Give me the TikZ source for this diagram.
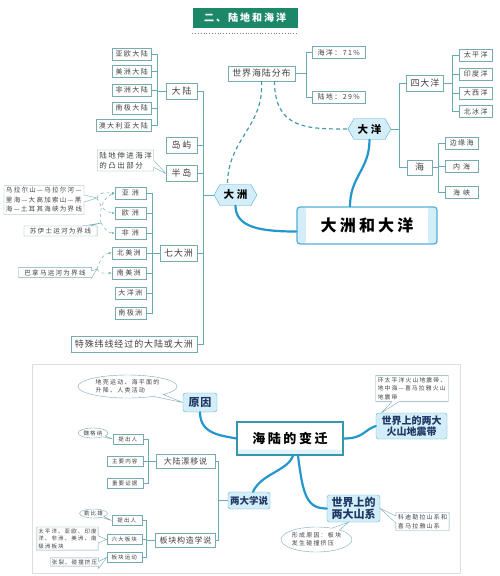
\documentclass[tikz,border=0pt]{standalone}
\usepackage{fontspec}
\newfontfamily\cjk[LetterSpace=20]{Noto Sans CJK SC}
\newfontfamily\cjkmid[LetterSpace=10]{Noto Sans CJK SC}
\newfontfamily\cjkplain{Noto Sans CJK SC}
\usetikzlibrary{shapes.callouts, shapes.symbols, arrows.meta, positioning}

\definecolor{lineC}{RGB}{105,172,182}
\definecolor{boxC}{RGB}{120,170,180}
\definecolor{textC}{RGB}{65,65,65}
\definecolor{thickC}{RGB}{35,150,205}
\definecolor{nodeFill}{RGB}{212,238,249}
\definecolor{nodeDraw}{RGB}{85,175,215}
\definecolor{coreC}{RGB}{55,150,170}
\definecolor{titleC}{RGB}{28,135,105}
\definecolor{frameC}{RGB}{222,222,222}
\definecolor{seaDash}{RGB}{70,155,170}
\definecolor{deepC}{RGB}{30,55,100}

\begin{document}
\begin{tikzpicture}[x=1pt, y=-1pt,
	% plain boxes of the trees
	leaf/.style={draw=boxC, fill=white, text=textC, inner xsep=3pt, inner ysep=1pt, minimum height=12pt, font=\cjk\fontsize{7}{8}\selectfont},
	tinyleaf/.style={leaf, minimum height=10pt, inner xsep=2.5pt, font=\cjk\fontsize{5.5}{6.5}\selectfont},
	midbox/.style={draw=boxC, fill=white, text=textC, inner xsep=4pt, inner ysep=1pt, minimum height=16pt, font=\cjkmid\fontsize{9}{10}\selectfont},
	% highlighted nodes
	hexnode/.style={signal, signal to=east and west, signal pointer angle=120, draw=nodeDraw, fill=nodeFill, text=black, minimum height=21pt, minimum width=43pt, inner xsep=3pt, font=\cjk\bfseries\fontsize{10.5}{12}\selectfont},
	bluebox/.style={draw=nodeDraw, fill=nodeFill, rounded corners=2.5pt, text=deepC, align=center, inner sep=2pt, font=\cjkplain\bfseries\fontsize{10}{11.5}\selectfont},
	core/.style={draw=nodeDraw, line width=1.3pt, fill=white, rounded corners=3pt, minimum width=140pt, minimum height=37pt, font=\cjk\bfseries\fontsize{16}{18}\selectfont,
		path picture={
			\fill[nodeFill] (path picture bounding box.north west) rectangle ([xshift=9pt]path picture bounding box.south west);
			\fill[nodeFill] (path picture bounding box.north east) rectangle ([xshift=-9pt]path picture bounding box.south east);
		}},
	coretwo/.style={draw=coreC, line width=1.3pt, fill=white, minimum width=106pt, minimum height=33pt, font=\cjk\bfseries\fontsize{13}{15}\selectfont,
		path picture={
			\fill[nodeFill!70] ([yshift=5pt]path picture bounding box.south west) rectangle (path picture bounding box.south east);
		}},
	% notes
	note/.style={rectangle callout, draw=boxC, fill=white, text=textC, align=left, inner sep=2pt, font=\cjk\fontsize{6.5}{9.5}\selectfont},
	tinynote/.style={note, inner sep=1.5pt, font=\cjk\fontsize{5.5}{7.5}\selectfont},
	oval/.style={ellipse callout, draw=boxC, fill=white, text=textC, align=left, inner sep=0.5pt, font=\cjk\fontsize{5.5}{7.5}\selectfont},
	% connectors
	branch/.style={draw=lineC, line width=0.7pt},
	hint/.style={draw=lineC, dashed, line width=0.5pt, -{Stealth[length=3pt]}},
	seadash/.style={draw=seaDash, dash pattern=on 4pt off 3pt, line width=1.2pt},
	stem/.style={draw=thickC, line width=2.2pt, line cap=round}
	]
	\useasboundingbox (0,0) rectangle (500,576);
	
	% ==============================================================
	% TITLE
	% ==============================================================
	\node[fill=titleC, text=white, font=\cjk\bfseries\fontsize{10}{12}\selectfont, minimum width=105pt, minimum height=20pt] (title) at (245,18) {二、陆地和海洋};
	\draw[gray, dotted, line width=0.8pt] ([yshift=-5pt]title.south west) -- ([yshift=-5pt]title.south east);
	
	% ==============================================================
	% CONTINENTS
	% ==============================================================
	\node[leaf, anchor=east] (yaou) at (151,54) {亚欧大陆};
	\node[leaf, anchor=east] (meizhoudl) at (151,71.5) {美洲大陆};
	\node[leaf, anchor=east] (feizhoudl) at (151,90) {非洲大陆};
	\node[leaf, anchor=east] (nanjidl) at (151,108) {南极大陆};
	\node[leaf, anchor=east] (aoda) at (151,125.5) {澳大利亚大陆};
	
	\node[midbox, minimum width=31pt] (dalu) at (181.5,91) {大\hspace{2pt}陆};
	\node[midbox, minimum width=31pt] (daoyu) at (181.5,145.5) {岛\hspace{2pt}屿};
	\node[midbox, minimum width=31pt] (bandao) at (181.5,173.5) {半\hspace{2pt}岛};
	\node[midbox, minimum width=37pt] (qidazhou) at (178.5,253.5) {七大洲};
	\node[midbox, anchor=east] (teshu) at (197,344) {特殊纬线经过的大陆或大洲};
	\node[hexnode] (dazhou) at (235.5,195) {大\hspace{3pt}洲};
	
	% seven continents
	\node[leaf, anchor=east, minimum width=31pt] (yazhou) at (146,193) {亚\hspace{3pt}洲};
	\node[leaf, anchor=east, minimum width=31pt] (ouzhou) at (146,213) {欧\hspace{3pt}洲};
	\node[leaf, anchor=east, minimum width=31pt] (feizhou) at (146,233) {非\hspace{3pt}洲};
	\node[leaf, anchor=east, minimum width=34pt] (beimei) at (146,253) {北美洲};
	\node[leaf, anchor=east, minimum width=34pt] (nanmei) at (146,273) {南美洲};
	\node[leaf, anchor=east, minimum width=31pt] (dayangzhou) at (146,293) {大洋洲};
	\node[leaf, anchor=east, minimum width=31pt] (nanji) at (146,313) {南极洲};
	
	% notes on the left
	\node[note, font=\cjk\fontsize{7.5}{10}\selectfont, callout absolute pointer={(bandao.west)}] (tuchu) at (125.5,160.5) {陆地伸进海洋\\的凸出部分};
	\coordinate (ural) at (97,198);
	\coordinate (suez) at (101,223);
	\coordinate (panama) at (97,269);
	\node[note, callout absolute pointer={(ural)}] (uralnote) at (44,200) {乌拉尔山—乌拉尔河—\\里海—大高加索山—黑\\海—土耳其海峡为界线};
	\node[note, inner xsep=6pt, callout absolute pointer={(suez)}] (suezn) at (60.5,231) {苏伊士运河为界线};
	\node[note, inner xsep=6pt, callout absolute pointer={(panama)}] (panaman) at (55,272.5) {巴拿马运河为界线};
	
	\draw[hint] (ural) to[out=80, in=180] (yazhou.west);
	\draw[hint] (ural) to[out=-70, in=180] (ouzhou.west);
	\draw[hint] (suez) to[out=100, in=200] (yazhou.west);
	\draw[hint] (suez) to[out=-60, in=180] (feizhou.west);
	\draw[hint] (panama) to[out=70, in=180] (beimei.west);
	\draw[hint] (panama) to[out=-70, in=180] (nanmei.west);
	
	% branches
	\draw[branch] (dalu.west) -- ++(-8,0) coordinate (dlTrunk);
	\foreach \n in {yaou, meizhoudl, feizhoudl, nanjidl, aoda} \draw[branch] (\n.east) -| (dlTrunk);
	\draw[branch] (qidazhou.west) -- ++(-7,0) coordinate (qdTrunk);
	\foreach \n in {yazhou, ouzhou, feizhou, beimei, nanmei, dayangzhou, nanji} \draw[branch] (\n.east) -| (qdTrunk);
	\draw[branch] (dazhou.west) -- ++(-10,0) coordinate (dzTrunk);
	\foreach \n in {dalu, daoyu, bandao, qidazhou, teshu} \draw[branch] (\n.east) -| (dzTrunk);
	
	% ==============================================================
	% OCEANS
	% ==============================================================
	\node[midbox, minimum height=15pt] (haelu) at (261.5,73.5) {世界海陆分布};
	\node[leaf, anchor=west, minimum width=53pt] (haiyang) at (312,52.5) {海洋：71\%};
	\node[leaf, anchor=west, minimum width=53pt] (ludi) at (312,97) {陆地：29\%};
	\draw[branch] (haelu.east) -- ++(11,0) coordinate (hlTrunk);
	\foreach \n in {haiyang, ludi} \draw[branch] (\n.west) -| (hlTrunk);
	
	\node[hexnode] (dayang) at (369.5,129) {大\hspace{3pt}洋};
	\node[midbox, minimum width=36pt] (sidayang) at (425,83) {四大洋};
	\node[midbox, minimum width=25pt, minimum height=15pt] (hai) at (419.5,167.5) {海};
	\draw[branch] (dayang.east) -- ++(8,0) coordinate (dyTrunk);
	\foreach \n in {sidayang, hai} \draw[branch] (\n.west) -| (dyTrunk);
	
	\node[leaf, anchor=west, minimum width=33pt] (taiping) at (459,55) {太平洋};
	\node[leaf, anchor=west, minimum width=33pt] (yindu) at (459,74) {印度洋};
	\node[leaf, anchor=west, minimum width=33pt] (daxi) at (459,93) {大西洋};
	\node[leaf, anchor=west, minimum width=33pt] (beibing) at (459,111.5) {北冰洋};
	\draw[branch] (sidayang.east) -- ++(9,0) coordinate (sdTrunk);
	\foreach \n in {taiping, yindu, daxi, beibing} \draw[branch] (\n.west) -| (sdTrunk);
	
	\node[leaf, anchor=west, minimum width=33pt] (bianyuan) at (445,143) {边缘海};
	\node[leaf, anchor=west, minimum width=33pt] (neihai) at (445,166.5) {内\hspace{3pt}海};
	\node[leaf, anchor=west, minimum width=33pt] (haixia) at (445,192.5) {海\hspace{3pt}峡};
	\draw[branch] (hai.east) -- ++(6,0) coordinate (haiTrunk);
	\foreach \n in {bianyuan, neihai, haixia} \draw[branch] (\n.west) -| (haiTrunk);
	
	% centre
	\node[core] (coreone) at (367,225.5) {大洲和大洋};
	\draw[stem] (dazhou.south) .. controls +(0,22) and +(-35,0) .. ([yshift=-6pt]coreone.west);
	\draw[stem] (dayang.south) .. controls +(0,30) and +(0,-30) .. ([xshift=-17pt]coreone.north);
	\draw[seadash] (haelu.south) .. controls +(3,45) and +(0,-45) .. ([xshift=-8pt]dazhou.north);
	\draw[seadash] ([xshift=13pt]haelu.south) .. controls +(0,48) and +(-40,0) .. (dayang.west);
	
	% ==============================================================
	% CHANGES OF LAND AND SEA
	% ==============================================================
	\draw[frameC, line width=0.6pt] (32,364) rectangle (460,573);
	
	\node[bluebox, minimum width=34pt, minimum height=19pt, font=\cjkplain\bfseries\fontsize{11}{12}\selectfont] (yuanyin) at (200,402.5) {原\hspace{1pt}因};
	\node[oval, font=\cjk\fontsize{6}{8}\selectfont, minimum width=99pt, minimum height=23pt, callout absolute pointer={(yuanyin.west)}] (yuanyinnote) at (127.5,386.5) {地壳运动、海平面的\\升降、人类活动};
	
	\node[coretwo] (coretwo) at (290,438.5) {海陆的变迁};
	
	\node[bluebox, minimum width=71pt, minimum height=26pt] (huoshan) at (411.5,426) {世界上的两大\\火山地震带};
	\node[note, font=\cjk\fontsize{5.8}{8.5}\selectfont, callout absolute pointer={([xshift=-30pt]huoshan.north)}] (huoshannote) at (412,388.5) {环太平洋火山地震带、\\地中海—喜马拉雅火山\\地震带};
	
	\node[bluebox, minimum width=53pt, minimum height=27pt, font=\cjkplain\bfseries\fontsize{11}{12}\selectfont] (shanxi) at (353.5,508.5) {世界上的\\两大山系};
	\node[note, font=\cjk\fontsize{6}{8.5}\selectfont, callout absolute pointer={(shanxi.east)}] (shanxinote) at (422.5,521.5) {科迪勒拉山系和\\喜马拉雅山系};
	\node[oval, font=\cjk\fontsize{6}{8}\selectfont, minimum width=67pt, minimum height=25pt, callout absolute pointer={([xshift=-5pt]shanxi.south)}] (xingcheng) at (316.5,539.5) {形成原因：板块\\发生碰撞挤压};
	
	\node[bluebox, minimum width=42pt, minimum height=17pt, font=\cjkplain\bfseries\fontsize{9.5}{11}\selectfont] (liangda) at (249,500.5) {两大学说};
	\node[midbox, minimum height=14pt, minimum width=59pt, font=\cjkmid\fontsize{8}{9}\selectfont] (piaoyi) at (185.5,461.5) {大陆漂移说};
	\node[midbox, minimum height=14pt, minimum width=59pt, font=\cjkmid\fontsize{8}{9}\selectfont] (bankuai) at (185.5,540) {板块构造学说};
	\draw[branch] (liangda.west) -- ++(-9,0) coordinate (ldTrunk);
	\foreach \n in {piaoyi, bankuai} \draw[branch] (\n.east) -| (ldTrunk);
	
	% continental drift
	\node[tinyleaf, anchor=east, minimum width=30pt] (tichuone) at (143,439) {提出人};
	\node[tinyleaf, anchor=east, minimum width=36pt] (neirong) at (143,461.5) {主要内容};
	\node[tinyleaf, anchor=east, minimum width=36pt] (zhengju) at (143,483) {重要证据};
	\draw[branch] (piaoyi.west) -- ++(-7,0) coordinate (pyTrunk);
	\foreach \n in {tichuone, neirong, zhengju} \draw[branch] (\n.east) -| (pyTrunk);
	\node[oval, minimum width=30pt, minimum height=10pt, callout absolute pointer={(tichuone.west)}] (wegener) at (93,433) {魏格纳};
	
	% plate tectonics
	\node[tinyleaf, anchor=east, minimum width=30pt] (tichutwo) at (142,520.5) {提出人};
	\node[tinyleaf, anchor=east, minimum width=35pt] (liuda) at (142,539.5) {六大板块};
	\node[tinyleaf, anchor=east, minimum width=35pt] (yundong) at (142,557.5) {板块运动};
	\draw[branch] (bankuai.west) -- ++(-9,0) coordinate (bkTrunk);
	\foreach \n in {tichutwo, liuda, yundong} \draw[branch] (\n.east) -| (bkTrunk);
	\node[oval, minimum width=27pt, minimum height=9pt, callout absolute pointer={(tichutwo.west)}] (lepichon) at (93.5,513.5) {勒比雄};
	\node[tinynote, callout absolute pointer={(liuda.west)}] (liudanote) at (67.5,538.5) {太平洋、亚欧、印度\\洋、非洲、美洲、南\\极洲板块};
	\node[tinynote, callout absolute pointer={(yundong.west)}] (yundongnote) at (74.5,562) {张裂、碰撞挤压};
	
	% thick stems
	\draw[stem] (yuanyin.south) .. controls +(0,22) and +(-15,-3) .. (coretwo.west);
	\draw[stem] (coretwo.east) .. controls +(20,0) and +(-12,4) .. (huoshan.west);
	\draw[stem] ([xshift=3pt]coretwo.south) .. controls +(-5,15) and +(8,-18) .. ([xshift=4pt]liangda.north);
	\draw[stem] ([xshift=8pt]coretwo.south) .. controls +(5,40) and +(-20,0) .. (shanxi.west);
	
\end{tikzpicture}
\end{document}
